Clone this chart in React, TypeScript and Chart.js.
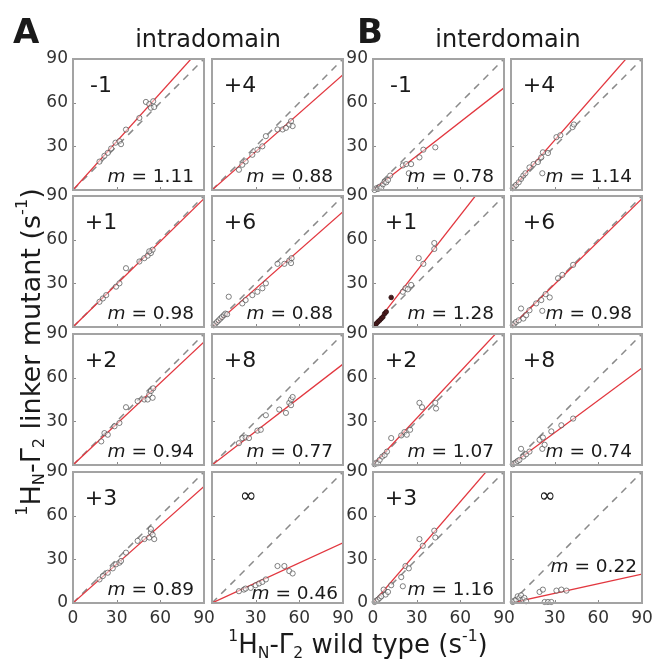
import React, { useEffect, useRef } from "react";
import { Chart, registerables } from "chart.js";
Chart.register(...registerables);

const FONT = "'DejaVu Sans', sans-serif";

// ---------- tick labels / axis range ----------
const axisTicks = [0, 30, 60, 90];

// ---------- panel names and fitted slopes ----------
const panelNames = ["-1", "+4", "+1", "+6", "+2", "+8", "+3", "∞"];
const intraSlopes = [1.11, 0.88, 0.98, 0.88, 0.94, 0.77, 0.89, 0.46];
const interSlopes = [0.78, 1.14, 1.28, 0.98, 1.07, 0.74, 1.16, 0.22];

// ---------- intradomain data (wild type rate, linker mutant rate) ----------
const intraM1Wt = [18.2, 21.6, 23.9, 26.2, 29.2, 31.9, 33.0, 36.4, 45.6, 50.1, 52.4, 53.5, 55.1, 55.8];
const intraM1Mut = [19.5, 23.5, 25.5, 28.5, 32.5, 33.5, 31.5, 41.5, 49.5, 60.5, 59.0, 56.5, 61.0, 57.0];
const intraP4Wt = [18.5, 20.8, 23.1, 27.7, 31.2, 34.6, 37.0, 45.0, 48.5, 50.8, 53.1, 54.3, 55.4];
const intraP4Mut = [13.9, 17.3, 19.6, 24.2, 27.7, 30.0, 37.0, 41.6, 41.6, 42.7, 45.0, 47.3, 43.9];
const intraP1Wt = [18.2, 20.5, 22.8, 29.6, 31.9, 36.4, 45.6, 49.0, 51.3, 53.5, 54.7, 52.4];
const intraP1Mut = [17.3, 19.6, 21.9, 27.7, 30.0, 40.4, 45.0, 47.3, 49.0, 50.8, 53.1, 52.0];
const intraP6Wt = [1.2, 2.3, 3.5, 4.6, 5.8, 6.9, 8.1, 9.2, 10.4, 11.5, 20.8, 23.1, 27.7, 31.2, 34.6, 37.0, 45.0, 49.7, 53.1, 54.7, 54.3];
const intraP6Mut = [1.2, 2.3, 3.5, 4.6, 5.8, 6.9, 8.1, 9.2, 8.8, 20.8, 16.2, 18.5, 21.9, 24.2, 26.6, 30.0, 43.4, 43.4, 45.7, 47.3, 43.9];
const intraP2Wt = [19.4, 21.6, 23.9, 28.5, 31.9, 36.4, 44.4, 49.0, 51.3, 52.4, 53.5, 55.1, 54.7];
const intraP2Mut = [16.2, 21.9, 20.8, 26.6, 28.9, 39.7, 43.9, 45.0, 45.0, 48.5, 50.8, 52.7, 46.2];
const intraP8Wt = [18.5, 20.8, 23.1, 25.4, 31.2, 33.5, 37.0, 46.2, 50.8, 53.1, 54.3, 55.4, 54.3];
const intraP8Mut = [15.0, 18.5, 18.9, 18.5, 23.6, 24.2, 34.2, 38.1, 35.8, 42.7, 45.0, 46.7, 41.1];
const intraP3Wt = [18.2, 20.5, 23.9, 27.3, 29.6, 31.9, 33.0, 36.4, 44.4, 49.0, 52.4, 53.5, 54.7, 55.8, 53.5];
const intraP3Mut = [16.2, 18.5, 20.8, 23.8, 26.6, 27.7, 28.9, 34.6, 42.7, 43.9, 45.0, 48.5, 46.9, 43.9, 50.8];
const intraInfWt = [18.5, 21.9, 23.1, 26.6, 30.0, 32.3, 34.6, 37.0, 45.0, 49.7, 53.1, 55.4];
const intraInfMut = [8.1, 9.2, 9.9, 10.4, 12.2, 13.4, 14.5, 16.2, 25.4, 25.4, 21.9, 20.3];

// ---------- interdomain data ----------
const interM1Wt = [1.1, 2.3, 3.4, 4.6, 5.7, 6.8, 8.0, 9.1, 10.3, 11.8, 20.5, 22.8, 26.2, 24.6, 31.9, 34.6, 42.8];
const interM1Mut = [0.0, 1.2, 0.7, 2.3, 1.6, 3.9, 5.8, 5.3, 6.9, 9.9, 16.9, 17.8, 17.8, 11.5, 22.4, 27.7, 29.3];
const interP4Wt = [1.2, 2.3, 3.5, 5.3, 6.9, 8.5, 9.9, 12.7, 15.5, 18.5, 20.8, 21.9, 25.4, 21.5, 31.2, 33.9, 42.3, 43.2];
const interP4Mut = [1.2, 2.3, 3.5, 5.3, 7.6, 9.9, 11.5, 15.5, 17.8, 19.2, 22.4, 25.9, 25.4, 11.5, 36.3, 37.6, 43.2, 45.0];
const interP1Wt = [20.5, 22.3, 23.9, 26.2, 31.4, 34.6, 42.1, 42.1];
const interP1Mut = [24.2, 26.6, 25.9, 28.9, 47.3, 43.4, 53.6, 57.7];
const interP1FilledWt = [1.1, 2.3, 3.4, 4.6, 5.7, 6.8, 8.0, 9.1, 12.5];
const interP1FilledMut = [1.2, 2.3, 3.5, 4.6, 5.8, 6.9, 9.2, 10.4, 20.3];
const interP6Wt = [1.2, 2.3, 3.5, 5.3, 6.9, 8.5, 10.4, 12.7, 17.3, 20.8, 21.5, 23.8, 26.6, 32.3, 35.3, 42.7];
const interP6Mut = [1.2, 2.3, 3.5, 4.6, 12.7, 5.8, 8.1, 11.5, 16.2, 18.5, 11.1, 22.6, 20.3, 33.5, 35.8, 42.7];
const interP2Wt = [1.1, 2.3, 3.4, 4.6, 6.4, 8.0, 9.6, 12.5, 19.4, 21.6, 23.2, 25.5, 31.9, 33.7, 42.8, 43.3];
const interP2Mut = [0.5, 1.6, 1.2, 3.5, 5.8, 6.9, 9.2, 18.5, 20.3, 22.6, 20.8, 24.2, 42.7, 39.7, 42.7, 38.8];
const interP8Wt = [1.2, 2.3, 3.5, 4.6, 5.8, 6.9, 8.5, 10.4, 12.7, 19.6, 21.9, 21.5, 23.1, 27.7, 34.6, 42.7];
const interP8Mut = [0.5, 1.2, 1.8, 2.8, 3.5, 11.1, 5.8, 7.4, 9.2, 17.3, 18.9, 11.1, 13.9, 23.1, 27.3, 31.9];
const interP3Wt = [1.1, 2.3, 3.4, 4.6, 5.7, 7.3, 8.7, 10.3, 12.5, 19.4, 20.5, 22.3, 24.6, 31.9, 34.2, 42.1, 42.8];
const interP3Mut = [0.7, 1.6, 2.3, 3.5, 4.6, 9.2, 5.8, 7.6, 12.2, 17.8, 11.5, 25.4, 23.8, 43.9, 39.3, 49.7, 45.0];
const interInfWt = [1.2, 2.3, 3.5, 4.6, 5.8, 6.9, 8.1, 9.2, 10.4, 19.6, 21.9, 23.1, 25.4, 27.7, 31.2, 34.6, 38.1];
const interInfMut = [0.7, 1.6, 2.3, 4.6, 3.5, 5.3, 2.3, 3.5, 1.2, 7.6, 9.2, 0.7, 0.7, 0.7, 8.5, 9.2, 8.5];

const intraWt = [intraM1Wt, intraP4Wt, intraP1Wt, intraP6Wt, intraP2Wt, intraP8Wt, intraP3Wt, intraInfWt];
const intraMut = [intraM1Mut, intraP4Mut, intraP1Mut, intraP6Mut, intraP2Mut, intraP8Mut, intraP3Mut, intraInfMut];
const interWt = [interM1Wt, interP4Wt, interP1Wt, interP6Wt, interP2Wt, interP8Wt, interP3Wt, interInfWt];
const interMut = [interM1Mut, interP4Mut, interP1Mut, interP6Mut, interP2Mut, interP8Mut, interP3Mut, interInfMut];

// ---------- layout (pixels) ----------
const COL_LEFT = [73, 212, 373, 511];
const ROW_TOP = [59, 196, 334, 472];
const SIZE = 131;
const PAD_L = 40, PAD_T = 12, PAD_R = 12, PAD_B = 30;

type PanelSpec = {
  name: string;
  m: number;
  wt: number[];
  mut: number[];
  fWt?: number[];
  fMut?: number[];
  col: number;
  row: number;
};

const panels: PanelSpec[] = [];
for (let g = 0; g < 2; g++) {
  for (let i = 0; i < 8; i++) {
    const p: PanelSpec = {
      name: panelNames[i],
      m: g === 0 ? intraSlopes[i] : interSlopes[i],
      wt: g === 0 ? intraWt[i] : interWt[i],
      mut: g === 0 ? intraMut[i] : interMut[i],
      col: g * 2 + (i % 2),
      row: Math.floor(i / 2),
    };
    if (g === 1 && i === 2) {
      p.fWt = interP1FilledWt;
      p.fMut = interP1FilledMut;
    }
    panels.push(p);
  }
}

function PanelChart({ p }: { p: PanelSpec }) {
  const ref = useRef<HTMLCanvasElement>(null);
  useEffect(() => {
    if (!ref.current) return;
    const lo = axisTicks[0];
    const hi = axisTicks[axisTicks.length - 1];
    const showY = p.col === 0 || p.col === 2;
    const showX = p.row === 3;
    const showYZero = p.row === 3;
    const showXZero = p.col === 0 || p.col === 2;

    const framePlugin = {
      id: "frame",
      afterDatasetsDraw(chart: any) {
        const { ctx, chartArea: a, scales } = chart;
        ctx.save();
        ctx.strokeStyle = "#8a8a8a";
        ctx.lineWidth = 1;
        axisTicks.filter((v) => v > lo && v < hi).forEach((v) => {
          const x = Math.round(scales.x.getPixelForValue(v)) + 0.5;
          ctx.beginPath();
          ctx.moveTo(x, a.bottom);
          ctx.lineTo(x, a.bottom - 3);
          ctx.stroke();
          const y = Math.round(scales.y.getPixelForValue(v)) + 0.5;
          ctx.beginPath();
          ctx.moveTo(a.left, y);
          ctx.lineTo(a.left + 3, y);
          ctx.stroke();
        });
        ctx.lineWidth = 2;
        ctx.strokeStyle = "#a3a3a3";
        ctx.strokeRect(a.left, a.top, a.right - a.left, a.bottom - a.top);
        ctx.restore();
      },
    };

    const pts = p.wt.map((x, k) => ({ x, y: p.mut[k] }));
    const datasets: any[] = [
      {
        type: "scatter",
        data: pts,
        pointRadius: 2.6,
        pointBorderWidth: 0.8,
        pointBorderColor: "rgba(70,70,70,0.85)",
        pointBackgroundColor: "rgba(255,255,255,0.5)",
        order: 0,
        clip: 4,
      },
    ];
    if (p.fWt && p.fMut) {
      datasets.push({
        type: "scatter",
        data: p.fWt.map((x, k) => ({ x, y: p.fMut![k] })),
        pointRadius: 2.3,
        pointBorderWidth: 0.8,
        pointBorderColor: "#2a1212",
        pointBackgroundColor: "#4a1a1c",
        order: 0,
        clip: 4,
      });
    }
    datasets.push({
      type: "line",
      data: [
        { x: lo, y: p.m * lo },
        { x: hi, y: p.m * hi },
      ],
      borderColor: "#e2373f",
      borderWidth: 1.3,
      pointRadius: 0,
      order: 1,
      clip: 0,
    });
    datasets.push({
      type: "line",
      data: [
        { x: lo, y: lo },
        { x: hi, y: hi },
      ],
      borderColor: "#8a8a8a",
      borderWidth: 1.5,
      borderDash: [7, 6],
      pointRadius: 0,
      order: 2,
      clip: 0,
    });

    const fixTicks = (s: any) => {
      s.ticks = axisTicks.map((v) => ({ value: v }));
    };
    const chart = new Chart(ref.current, {
      type: "scatter",
      data: { datasets },
      options: {
        animation: false,
        responsive: false,
        devicePixelRatio: 1,
        layout: { padding: { top: PAD_T, right: PAD_R, left: 0, bottom: 0 } },
        plugins: { legend: { display: false }, tooltip: { enabled: false } },
        events: [],
        scales: {
          x: {
            type: "linear",
            min: lo,
            max: hi,
            grid: { display: false, drawTicks: false },
            border: { display: false },
            afterBuildTicks: fixTicks,
            afterFit: (s: any) => {
              s.height = PAD_B;
              s.paddingLeft = 0;
              s.paddingRight = 0;
              s.paddingTop = 0;
              s.paddingBottom = 0;
            },
            ticks: {
              display: showX,
              autoSkip: false,
              maxRotation: 0,
              padding: 5,
              color: "#333",
              font: { family: FONT, size: 17 },
              callback: (v: any) => (!showXZero && v === lo ? "" : String(v)),
            },
          },
          y: {
            type: "linear",
            min: lo,
            max: hi,
            grid: { display: false, drawTicks: false },
            border: { display: false },
            afterBuildTicks: fixTicks,
            afterFit: (s: any) => {
              s.width = PAD_L;
              s.paddingLeft = 0;
              s.paddingRight = 0;
              s.paddingTop = 0;
              s.paddingBottom = 0;
            },
            ticks: {
              display: showY,
              autoSkip: false,
              padding: 5,
              color: "#333",
              font: { family: FONT, size: 17 },
              callback: (v: any) => (!showYZero && v === lo ? "" : String(v)),
            },
          },
        },
      } as any,
      plugins: [framePlugin],
    });
    return () => chart.destroy();
  }, [p]);

  return (
    <canvas
      ref={ref}
      width={SIZE + PAD_L + PAD_R}
      height={SIZE + PAD_T + PAD_B}
      style={{
        position: "absolute",
        left: COL_LEFT[p.col] - PAD_L,
        top: ROW_TOP[p.row] - PAD_T,
        width: SIZE + PAD_L + PAD_R,
        height: SIZE + PAD_T + PAD_B,
      }}
    />
  );
}

const BASE = 0.846; // baseline offset (em) for line-height 1 in DejaVu Sans

function Text({
  x,
  baseline,
  size,
  align = "left",
  bold = false,
  children,
}: {
  x: number;
  baseline: number;
  size: number;
  align?: "left" | "center" | "right";
  bold?: boolean;
  children: React.ReactNode;
}) {
  const tx = align === "center" ? "translateX(-50%)" : align === "right" ? "translateX(-100%)" : "none";
  return (
    <div
      style={{
        position: "absolute",
        left: x,
        top: baseline - BASE * size,
        fontSize: size,
        lineHeight: 1,
        fontFamily: FONT,
        fontWeight: bold ? "bold" : "normal",
        color: "#1a1a1a",
        whiteSpace: "nowrap",
        transform: tx,
      }}
    >
      {children}
    </div>
  );
}

const supStyle: React.CSSProperties = { fontSize: "0.6em", lineHeight: 0, verticalAlign: "0.75em" };
const subStyle: React.CSSProperties = { fontSize: "0.6em", lineHeight: 0, verticalAlign: "-0.3em" };

export default function App() {
  return (
    <div
      style={{
        position: "absolute",
        left: 0,
        top: 0,
        width: 654,
        height: 660,
        background: "#fff",
        overflow: "hidden",
      }}
    >
      {panels.map((p, k) => (
        <PanelChart key={k} p={p} />
      ))}

      {panels.map((p, k) => {
        const left = COL_LEFT[p.col];
        const top = ROW_TOP[p.row];
        const isInf = p.name === "∞";
        const interInf = isInf && p.col === 3;
        const mRight = isInf ? 5 : 10;
        const mUp = interInf ? 30 : isInf ? 3 : 7;
        return (
          <React.Fragment key={"t" + k}>
            <Text x={left + (isInf ? 36 : 28)} baseline={top + (isInf ? 30 : 34)} size={isInf ? 20 : 22} align="center">
              {p.name}
            </Text>
            <Text x={left + SIZE - mRight} baseline={top + SIZE - mUp} size={18.5} align="right">
              <i>m</i> = {p.m.toFixed(2)}
            </Text>
          </React.Fragment>
        );
      })}

      <Text x={13} baseline={43} size={34} bold>
        A
      </Text>
      <Text x={357} baseline={43} size={34} bold>
        B
      </Text>
      <Text x={208} baseline={47} size={24} align="center">
        intradomain
      </Text>
      <Text x={508} baseline={47} size={24} align="center">
        interdomain
      </Text>

      <Text x={358} baseline={653} size={26} align="center">
        <sup style={supStyle}>1</sup>H<sub style={subStyle}>N</sub>-Γ<sub style={subStyle}>2</sub> wild type (s
        <sup style={supStyle}>-1</sup>)
      </Text>

      <div
        style={{
          position: "absolute",
          left: 30,
          top: 352,
          transform: "translate(-50%, -50%) rotate(-90deg)",
          fontSize: 27,
          lineHeight: 1,
          fontFamily: FONT,
          color: "#1a1a1a",
          whiteSpace: "nowrap",
        }}
      >
        <sup style={supStyle}>1</sup>H<sub style={subStyle}>N</sub>-Γ<sub style={subStyle}>2</sub> linker mutant (s
        <sup style={supStyle}>-1</sup>)
      </div>
    </div>
  );
}
